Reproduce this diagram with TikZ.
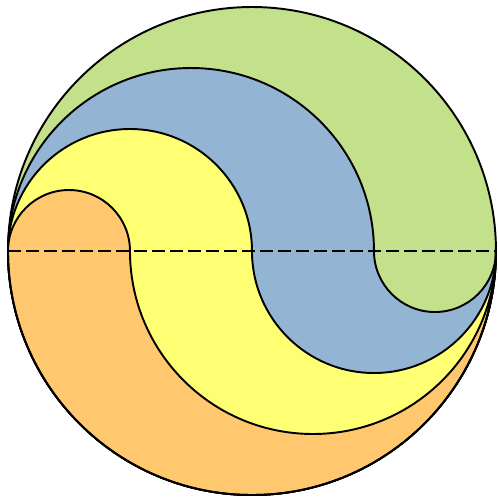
\documentclass[tikz,border=0pt]{standalone}
\usepackage{tikz}
\usetikzlibrary{calc}
\definecolor{swirlgreen}{RGB}{195,224,139}
\definecolor{swirlblue}{RGB}{147,181,211}
\definecolor{swirlyellow}{RGB}{255,255,115}
\definecolor{swirlorange}{RGB}{255,200,111}
\begin{document}
\begin{tikzpicture}[
  outline/.style={draw=black, line width=0.9pt},
  axisline/.style={draw=black, line width=0.9pt, dash pattern=on 6pt off 2.4pt}
]
  \useasboundingbox (-4.131,-4.082) rectangle (4.033,4.115);
  % outer disc
  \fill[swirlgreen] (0,0) circle[radius=4];
  % swirl bands, upper radius \r and lower radius 4-\r
  \foreach \r/\c in {3/swirlblue, 2/swirlyellow, 1/swirlorange} {
    \pgfmathsetmacro{\s}{4-\r}
    \path[outline, fill=\c] (-4,0) arc[start angle=180, end angle=0, radius=\r]
      arc[start angle=180, end angle=360, radius=\s]
      arc[start angle=0, end angle=-180, radius=4] -- cycle;
  }
  \draw[outline] (0,0) circle[radius=4];
  % diameter
  \coordinate (west) at (-4,0);
  \coordinate (east) at (4,0);
  \draw[axisline] (west) -- (east);
\end{tikzpicture}
\end{document}
